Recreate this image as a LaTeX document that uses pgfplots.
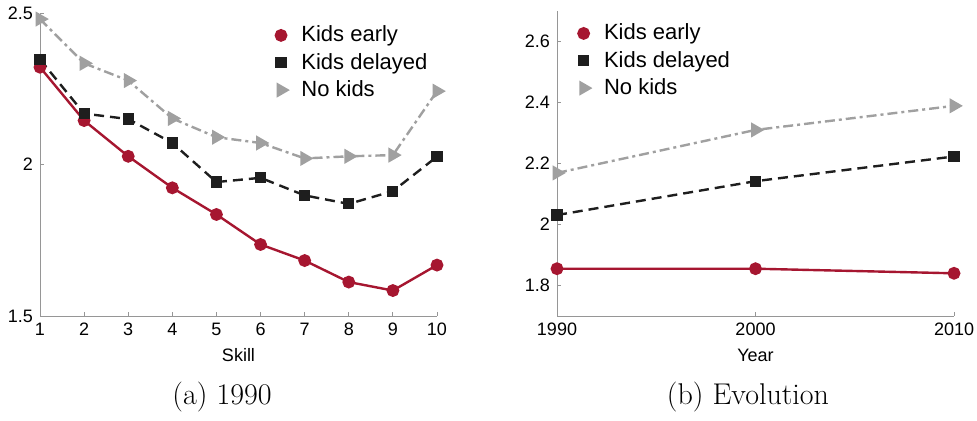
\documentclass[border=0pt]{standalone}
\usepackage{fontspec}
\usepackage{pgfplots}
\pgfplotsset{compat=1.18}
\newfontfamily\hel{Liberation Sans}
\definecolor{kred}{RGB}{166,22,48}
\definecolor{kblack}{RGB}{30,30,30}
\definecolor{kgray}{RGB}{160,160,160}
\definecolor{axgray}{RGB}{150,150,150}
\pgfplotsset{
  kidsaxis/.style={
    anchor=south west,
    scale only axis,
    axis lines*=left,
    axis line style={draw=axgray,-},
    tick align=inside,
    tick pos=left,
    major tick length=2pt,
    tick style={axgray, line width=0.4pt},
    tick label style={font=\hel\fontsize{9}{11}\selectfont},
    /pgf/number format/assume math mode=true,
    label style={font=\hel\fontsize{9}{11}\selectfont},
    legend cell align=left,
    legend style={draw=none, fill=none, font=\hel\fontsize{11}{13}\selectfont,
      row sep=0.2pt, column sep=5pt, inner xsep=0pt},
    legend image code/.code={\draw[#1] plot coordinates {(0.1cm,0cm)};},
  },
  early/.style={kred, line width=1.2pt, mark=*, mark size=2.6pt, mark options={solid}},
  delayed/.style={kblack, line width=1.2pt, dash pattern=on 5pt off 3pt, mark=square*, mark size=2.2pt, mark options={solid}},
  nokids/.style={kgray, line width=1.2pt, dash pattern=on 5pt off 2pt on 1.5pt off 2pt, mark=triangle*, mark size=3.2pt, mark options={solid, rotate=-90}},
}
\begin{document}
\begin{tikzpicture}
\useasboundingbox (0,0) rectangle (488.5pt,210.5pt);

\begin{axis}[kidsaxis,
  at={(20pt,52.5pt)},
  width=198.5pt, height=151.5pt,
  xmin=1, xmax=10, ymin=1.5, ymax=2.5,
  xtick={1,...,10},
  ytick={1.5,2,2.5},
  yticklabels={1.5,2,2.5},
  xlabel={Skill},
  xlabel style={at={(axis description cs:0.5,-0.13)}, anchor=center},
  legend style={at={(rel axis cs:0.593,0.985)}, anchor=north west},
]
\addplot [early] table {%
1 2.321
2 2.145
3 2.027
4 1.923
5 1.835
6 1.736
7 1.683
8 1.612
9 1.584
10 1.668
};
\addlegendentry{Kids early}
\addplot [delayed] table {%
1 2.347
2 2.168
3 2.150
4 2.071
5 1.942
6 1.956
7 1.898
8 1.870
9 1.912
10 2.026
};
\addlegendentry{Kids delayed}
\addplot [nokids] table {%
1 2.480
2 2.334
3 2.277
4 2.152
5 2.090
6 2.071
7 2.020
8 2.027
9 2.031
10 2.242
};
\addlegendentry{No kids}
\end{axis}

\begin{axis}[kidsaxis,
  at={(278.5pt,52.5pt)},
  width=198.5pt, height=152.5pt,
  xmin=1990, xmax=2010, ymin=1.7, ymax=2.7,
  xtick={1990,2000,2010},
  xticklabels={1990,2000,2010},
  ytick={1.8,2,2.2,2.4,2.6},
  yticklabels={1.8,2,2.2,2.4,2.6},
  xlabel={Year},
  xlabel style={at={(axis description cs:0.5,-0.13)}, anchor=center},
  legend style={at={(rel axis cs:0.053,0.985)}, anchor=north west},
]
\addplot [early] table {%
1990 1.855
2000 1.855
2010 1.840
};
\addlegendentry{Kids early}
\addplot [delayed] table {%
1990 2.031
2000 2.142
2010 2.223
};
\addlegendentry{Kids delayed}
\addplot [nokids] table {%
1990 2.169
2000 2.310
2010 2.389
};
\addlegendentry{No kids}
\end{axis}

\node[font=\fontsize{15}{18}\selectfont] at (111pt,12pt) {(a) 1990};
\node[font=\fontsize{15}{18}\selectfont] at (374pt,12pt) {(b) Evolution};
\end{tikzpicture}
\end{document}
